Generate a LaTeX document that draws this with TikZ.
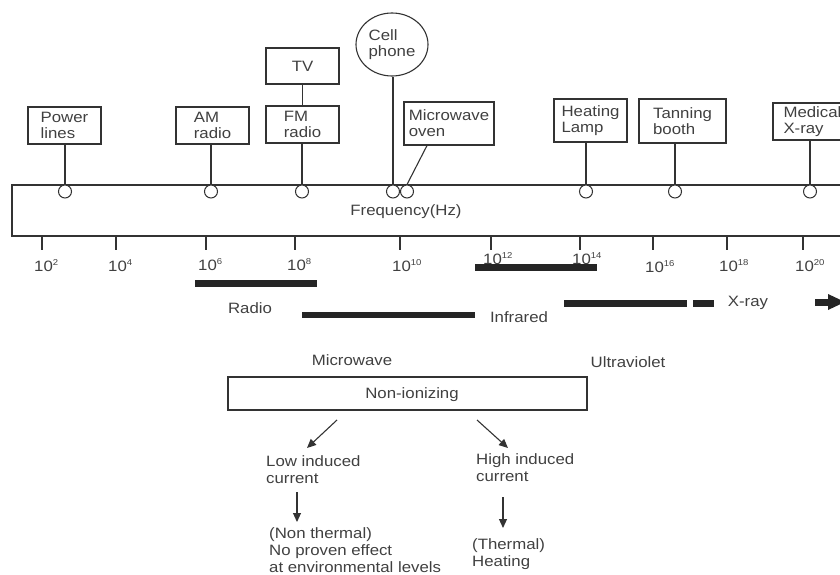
\documentclass[tikz,border=0pt]{standalone}
\usepackage{fontspec}
\setmainfont{Liberation Sans}[FakeStretch=1.12]
\usetikzlibrary{arrows.meta,shapes.geometric}
\definecolor{ink}{HTML}{333333}
\definecolor{txt}{HTML}{404040}
\definecolor{barc}{HTML}{252525}
\newcommand\sx[1]{\raisebox{6pt}{\fontsize{8.5}{9}\selectfont #1}}
\begin{document}
\begin{tikzpicture}[x=1pt,y=-1pt,
  every node/.style={text=txt,font=\fontsize{15}{16}\selectfont},
  box/.style={draw=ink,line width=1.1pt,align=left,inner sep=0pt},
  free/.style={align=left,anchor=north west,inner sep=0pt,font=\fontsize{15}{17}\selectfont},
  dotc/.style={draw=ink,line width=1pt,fill=white,circle,minimum size=13pt,inner sep=0pt},
  wire/.style={draw=ink,line width=1.1pt},
  bar/.style={draw=barc,line width=6.5pt},
  tk/.style={draw=ink,line width=1.3pt},
  lbl/.style={anchor=base west,inner sep=0pt},
  arr/.style={draw=ink,line width=1.1pt,-{Triangle[length=9pt,width=8pt]}}]
\useasboundingbox (0,0) rectangle (840,575);

% main frequency band
\draw[ink,line width=1.1pt] (850,185) -- (12,185) -- (12,236) -- (850,236);
\node (freq) at (406,212) {Frequency(Hz)};

% source boxes
\node[box,minimum width=73pt,minimum height=37pt] (pl) at (64.5,125.5) {Power\\lines};
\node[box,minimum width=73pt,minimum height=37pt] (am) at (212.5,125.5) {AM\\radio};
\node[box,minimum width=73pt,minimum height=37pt] (fm) at (302.5,124.5) {FM\\radio};
\node[box,minimum width=73pt,minimum height=36pt] (tv) at (302.5,66) {TV};
\node[draw=ink,line width=1.1pt,ellipse,minimum width=72pt,minimum height=63pt,inner sep=0pt,align=left] (cp) at (392,44.5) {Cell\\phone};
\node[box,minimum width=90pt,minimum height=43pt] (mw) at (449,123.5) {Microwave\\oven};
\node[box,minimum width=73pt,minimum height=43pt] (hl) at (590.5,120.5) {Heating\\Lamp};
\node[box,minimum width=87pt,minimum height=44pt] (tb) at (682.5,121) {Tanning\\booth};
\node[box,minimum width=73pt,minimum height=37pt,text width=52pt] (mx) at (809.5,121.5) {Medical\\X-ray};

% hanging circles
\node[dotc] (d1) at (65,191.5) {};
\node[dotc] (d2) at (211,191.5) {};
\node[dotc] (d3) at (302,191.5) {};
\node[dotc] (d4) at (393,191.5) {};
\node[dotc] (d5) at (407,191.5) {};
\node[dotc] (d6) at (586,191.5) {};
\node[dotc] (d7) at (675,191.5) {};
\node[dotc] (d8) at (810,191.5) {};

% connectors
\draw[wire] (d1 |- pl.south) -- (d1.north);
\draw[wire] (d2 |- am.south) -- (d2.north);
\draw[wire] (d3 |- fm.south) -- (d3.north);
\draw[wire] (tv.south) -- (fm.north);
\draw[wire] (d4 |- cp.south) -- (d4.north);
\draw[wire] ([xshift=-22pt]mw.south) -- (d5.north);
\draw[wire] (d6 |- hl.south) -- (d6.north);
\draw[wire] (d7 |- tb.south) -- (d7.north);
\draw[wire] (d8 |- mx.south) -- (d8.north);

% band bars
\draw[bar] (195,283.5) -- (317,283.5);
\draw[bar] (302,315) -- (475,315);
\draw[bar] (475,267.5) -- (597,267.5);
\draw[bar] (564,303.5) -- (687,303.5);
\draw[bar] (693,303.5) -- (714,303.5);
\fill[barc] (815,298.5) rectangle (828,305.5);
\fill[barc] (828,294) -- (845,302) -- (828,310) -- cycle;

% ticks and labels
\foreach \x/\e/\b in {42/2/271,116/4/271,206/6/270,295/8/270,400/10/271,491/12/264,580/14/264,653/16/272,727/18/271,803/20/271}{
  \draw[tk] (\x,236) -- (\x,250);
  \node[lbl] at (\x-8,\b) {10\sx{\e}};
}

\node (radio) at (250,308) {Radio};
\node (infra) at (519,317) {Infrared};
\node (xray) at (748,303) {X-ray};
\node (micro) at (352,360) {Microwave};
\node (uv) at (628,362) {Ultraviolet};

% non-ionizing tree
\node[draw=ink,line width=1.1pt,minimum width=359pt,minimum height=33pt,inner sep=0pt] (ni) at (407.5,393.5) {};
\node (nitxt) at (412,395) {Non-ionizing};
\coordinate (la) at (337,420);
\coordinate (ra) at (477,420);
\node[free] (low) at (266,455) {Low induced\\current};
\node[free] (high) at (476,453) {High induced\\current};
\draw[arr] (la) -- (307,448);
\draw[arr] (ra) -- (508,448);
\coordinate (lb) at (297,492);
\coordinate (rb) at (503,497);
\node[free] (nonth) at (269,527) {(Non thermal)\\No proven effect\\at environmental levels};
\node[free] (th) at (472,538) {(Thermal)\\Heating};
\draw[arr] (lb) -- ([yshift=5pt]nonth.north west -| lb);
\draw[arr] (rb) -- ([yshift=10pt]th.north west -| rb);
\end{tikzpicture}
\end{document}
